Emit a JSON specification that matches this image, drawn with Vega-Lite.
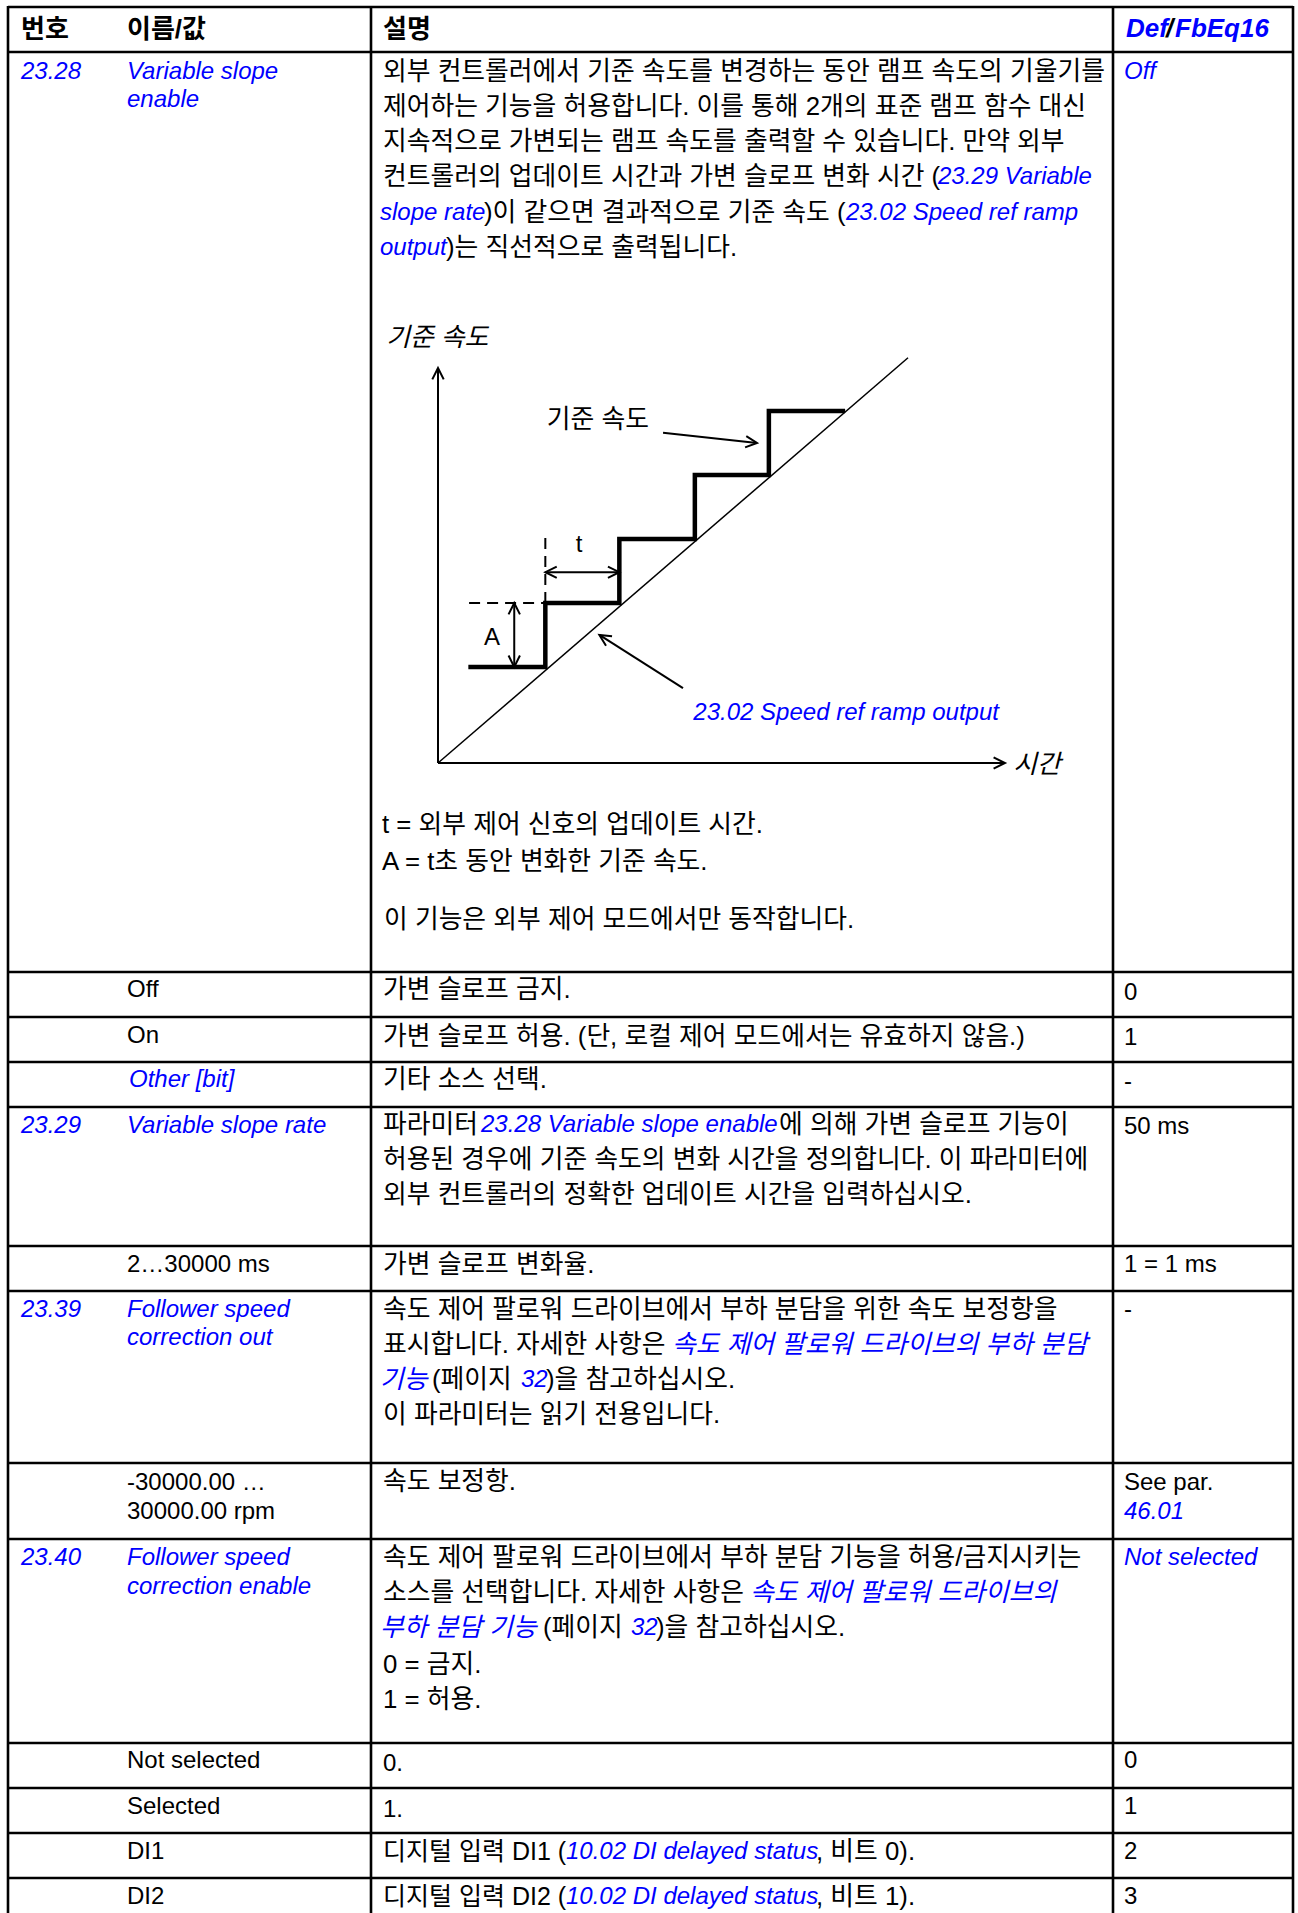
{
  "$schema": "https://vega.github.io/schema/vega-lite/v6.json",
  "width": 1298,
  "height": 1913,
  "padding": 0,
  "autosize": {"type": "none"},
  "background": "white",
  "config": {"view": {"stroke": null}},
  "datasets": {
    "grid": [
      {"x": 8, "y": 7, "x2": 1293, "y2": 7},
      {"x": 8, "y": 52, "x2": 1293, "y2": 52},
      {"x": 8, "y": 972, "x2": 1293, "y2": 972},
      {"x": 8, "y": 1017, "x2": 1293, "y2": 1017},
      {"x": 8, "y": 1062, "x2": 1293, "y2": 1062},
      {"x": 8, "y": 1107, "x2": 1293, "y2": 1107},
      {"x": 8, "y": 1246, "x2": 1293, "y2": 1246},
      {"x": 8, "y": 1291, "x2": 1293, "y2": 1291},
      {"x": 8, "y": 1463, "x2": 1293, "y2": 1463},
      {"x": 8, "y": 1539, "x2": 1293, "y2": 1539},
      {"x": 8, "y": 1743, "x2": 1293, "y2": 1743},
      {"x": 8, "y": 1788, "x2": 1293, "y2": 1788},
      {"x": 8, "y": 1833, "x2": 1293, "y2": 1833},
      {"x": 8, "y": 1878, "x2": 1293, "y2": 1878},
      {"x": 8, "y": 6, "x2": 8, "y2": 1913},
      {"x": 371, "y": 6, "x2": 371, "y2": 1913},
      {"x": 1113, "y": 6, "x2": 1113, "y2": 1913},
      {"x": 1293, "y": 6, "x2": 1293, "y2": 1913}
    ],
    "head": [
      {"x": 21, "y": 30, "t": "번호"},
      {"x": 127, "y": 30, "t": "이름/값"},
      {"x": 383, "y": 30, "t": "설명"}
    ],
    "headlink": [
      {"x": 1126, "y": 29, "t": "Def"},
      {"x": 1175, "y": 29, "t": "FbEq16"}
    ],
    "headslash": [
      {"x": 1166, "y": 29, "t": "/"}
    ],
    "plain": [
      {"x": 127, "y": 990, "t": "Off"},
      {"x": 127, "y": 1036, "t": "On"},
      {"x": 127, "y": 1265, "t": "2…30000 ms"},
      {"x": 127, "y": 1483, "t": "-30000.00 …"},
      {"x": 127, "y": 1512, "t": "30000.00 rpm"},
      {"x": 127, "y": 1761, "t": "Not selected"},
      {"x": 127, "y": 1807, "t": "Selected"},
      {"x": 127, "y": 1852, "t": "DI1"},
      {"x": 127, "y": 1897, "t": "DI2"},
      {"x": 383, "y": 1764, "t": "0."},
      {"x": 383, "y": 1810, "t": "1."},
      {"x": 1124, "y": 993, "t": "0"},
      {"x": 1124, "y": 1038, "t": "1"},
      {"x": 1124, "y": 1082, "t": "-"},
      {"x": 1124, "y": 1127, "t": "50 ms"},
      {"x": 1124, "y": 1265, "t": "1 = 1 ms"},
      {"x": 1124, "y": 1310, "t": "-"},
      {"x": 1124, "y": 1483, "t": "See par."},
      {"x": 1124, "y": 1761, "t": "0"},
      {"x": 1124, "y": 1807, "t": "1"},
      {"x": 1124, "y": 1852, "t": "2"},
      {"x": 1124, "y": 1897, "t": "3"}
    ],
    "kor": [
      {"x": 383, "y": 72, "t": "외부 컨트롤러에서 기준 속도를 변경하는 동안 램프 속도의 기울기를"},
      {"x": 383, "y": 107, "t": "제어하는 기능을 허용합니다. 이를 통해 2개의 표준 램프 함수 대신"},
      {"x": 383, "y": 142, "t": "지속적으로 가변되는 램프 속도를 출력할 수 있습니다. 만약 외부"},
      {"x": 383, "y": 177, "t": "컨트롤러의 업데이트 시간과 가변 슬로프 변화 시간 ("},
      {"x": 484, "y": 213, "t": ")이 같으면 결과적으로 기준 속도 ("},
      {"x": 446, "y": 248, "t": ")는 직선적으로 출력됩니다."},
      {"x": 382, "y": 825, "t": "t = 외부 제어 신호의 업데이트 시간."},
      {"x": 382, "y": 862, "t": "A = t초 동안 변화한 기준 속도."},
      {"x": 384, "y": 920, "t": "이 기능은 외부 제어 모드에서만 동작합니다."},
      {"x": 383, "y": 990, "t": "가변 슬로프 금지."},
      {"x": 383, "y": 1037, "t": "가변 슬로프 허용. (단, 로컬 제어 모드에서는 유효하지 않음.)"},
      {"x": 383, "y": 1080, "t": "기타 소스 선택."},
      {"x": 383, "y": 1125, "t": "파라미터 "},
      {"x": 779, "y": 1125, "t": "에 의해 가변 슬로프 기능이"},
      {"x": 383, "y": 1160, "t": "허용된 경우에 기준 속도의 변화 시간을 정의합니다. 이 파라미터에"},
      {"x": 383, "y": 1195, "t": "외부 컨트롤러의 정확한 업데이트 시간을 입력하십시오."},
      {"x": 383, "y": 1265, "t": "가변 슬로프 변화율."},
      {"x": 383, "y": 1310, "t": "속도 제어 팔로워 드라이브에서 부하 분담을 위한 속도 보정항을"},
      {"x": 383, "y": 1345, "t": "표시합니다. 자세한 사항은 "},
      {"x": 432, "y": 1380, "t": "(페이지 "},
      {"x": 546, "y": 1380, "t": ")을 참고하십시오."},
      {"x": 383, "y": 1415, "t": "이 파라미터는 읽기 전용입니다."},
      {"x": 383, "y": 1482, "t": "속도 보정항."},
      {"x": 383, "y": 1558, "t": "속도 제어 팔로워 드라이브에서 부하 분담 기능을 허용/금지시키는"},
      {"x": 383, "y": 1593, "t": "소스를 선택합니다. 자세한 사항은 "},
      {"x": 543, "y": 1628, "t": "(페이지 "},
      {"x": 656, "y": 1628, "t": ")을 참고하십시오."},
      {"x": 383, "y": 1665, "t": "0 = 금지."},
      {"x": 383, "y": 1700, "t": "1 = 허용."},
      {"x": 816, "y": 1852, "t": ", 비트 0)."},
      {"x": 816, "y": 1897, "t": ", 비트 1)."}
    ],
    "kormix": [
      {"x": 383, "y": 1852, "t": "디지털 입력 DI1 ("},
      {"x": 383, "y": 1897, "t": "디지털 입력 DI2 ("}
    ],
    "link": [
      {"x": 21, "y": 72, "t": "23.28"},
      {"x": 127, "y": 72, "t": "Variable slope"},
      {"x": 127, "y": 100, "t": "enable"},
      {"x": 1124, "y": 72, "t": "Off"},
      {"x": 938, "y": 177, "t": "23.29 Variable"},
      {"x": 380, "y": 213, "t": "slope rate"},
      {"x": 846, "y": 213, "t": "23.02 Speed ref ramp"},
      {"x": 380, "y": 248, "t": "output"},
      {"x": 129, "y": 1080, "t": "Other [bit]"},
      {"x": 21, "y": 1126, "t": "23.29"},
      {"x": 127, "y": 1126, "t": "Variable slope rate"},
      {"x": 481, "y": 1125, "t": "23.28 Variable slope enable"},
      {"x": 21, "y": 1310, "t": "23.39"},
      {"x": 127, "y": 1310, "t": "Follower speed"},
      {"x": 127, "y": 1338, "t": "correction out"},
      {"x": 521, "y": 1380, "t": "32"},
      {"x": 1124, "y": 1512, "t": "46.01"},
      {"x": 21, "y": 1558, "t": "23.40"},
      {"x": 127, "y": 1558, "t": "Follower speed"},
      {"x": 127, "y": 1587, "t": "correction enable"},
      {"x": 1124, "y": 1558, "t": "Not selected"},
      {"x": 631, "y": 1628, "t": "32"},
      {"x": 566, "y": 1852, "t": "10.02 DI delayed status"},
      {"x": 566, "y": 1897, "t": "10.02 DI delayed status"}
    ],
    "korlink": [
      {"x": 672, "y": 1345, "t": "속도 제어 팔로워 드라이브의 부하 분담"},
      {"x": 380, "y": 1380, "t": "기능"},
      {"x": 750, "y": 1593, "t": "속도 제어 팔로워 드라이브의"},
      {"x": 380, "y": 1628, "t": "부하 분담 기능"}
    ],
    "axes": [
      {"tx": 0, "sy": 0, "tx2": 0, "sy2": 6.17},
      {"tx": 0, "sy": 0, "tx2": 7.66, "sy2": 0}
    ],
    "ramp": [
      {"tx": 0, "sy": 0, "tx2": 6.35, "sy2": 6.33}
    ],
    "stairs": [
      {"k": 0, "tx": 0.41, "sy": 1.5},
      {"k": 1, "tx": 1.45, "sy": 1.5},
      {"k": 2, "tx": 1.45, "sy": 2.5},
      {"k": 3, "tx": 2.45, "sy": 2.5},
      {"k": 4, "tx": 2.45, "sy": 3.5},
      {"k": 5, "tx": 3.47, "sy": 3.5},
      {"k": 6, "tx": 3.47, "sy": 4.5},
      {"k": 7, "tx": 4.47, "sy": 4.5},
      {"k": 8, "tx": 4.47, "sy": 5.5},
      {"k": 9, "tx": 5.5, "sy": 5.5}
    ],
    "dashes": [
      {"tx": 0.42, "sy": 2.5, "tx2": 1.45, "sy2": 2.5},
      {"tx": 1.45, "sy": 2.5, "tx2": 1.45, "sy2": 3.52}
    ],
    "dims": [
      {"tx": 1.45, "sy": 2.98, "tx2": 2.45, "sy2": 2.98},
      {"tx": 1.03, "sy": 1.5, "tx2": 1.03, "sy2": 2.5},
      {"tx": 3.04, "sy": 5.16, "tx2": 4.31, "sy2": 5.0},
      {"tx": 3.31, "sy": 1.17, "tx2": 2.18, "sy2": 2.0}
    ],
    "heads": [
      {"tx": 0, "sy": 6.17, "heading": 0},
      {"tx": 7.66, "sy": 0, "heading": 90},
      {"tx": 1.45, "sy": 2.98, "heading": 270},
      {"tx": 2.45, "sy": 2.98, "heading": 90},
      {"tx": 1.03, "sy": 2.5, "heading": 0},
      {"tx": 1.03, "sy": 1.5, "heading": 180},
      {"tx": 4.31, "sy": 5.0, "heading": 96},
      {"tx": 2.18, "sy": 2.0, "heading": 302}
    ],
    "dlabital": [
      {"tx": -0.70, "sy": 6.64, "t": "기준 속도"},
      {"tx": 7.77, "sy": -0.03, "t": "시간"}
    ],
    "dlabkor": [
      {"tx": 1.47, "sy": 5.36, "t": "기준 속도"}
    ],
    "dlab": [
      {"tx": 1.86, "sy": 3.41, "t": "t"},
      {"tx": 0.62, "sy": 1.95, "t": "A"}
    ],
    "dlablink": [
      {"tx": 3.45, "sy": 0.78, "t": "23.02 Speed ref ramp output"}
    ]
  },
  "layer": [
    {
      "layer": [
        {
          "data": {"name": "grid"},
          "mark": {"type": "rule", "stroke": "black", "strokeWidth": 2.6},
          "encoding": {
            "x": {"field": "x", "type": "quantitative", "scale": {"domain": [0, 1298], "range": [0, 1298], "nice": false, "zero": false}, "axis": null},
            "x2": {"field": "x2"},
            "y": {"field": "y", "type": "quantitative", "scale": {"domain": [0, 1913], "range": [0, 1913], "nice": false, "zero": false}, "axis": null},
            "y2": {"field": "y2"}
          }
        },
        {
          "data": {"name": "head"},
          "mark": {"type": "text", "align": "left", "baseline": "middle", "font": "Liberation Sans, Noto Sans CJK KR, sans-serif", "fontSize": 26, "fontWeight": "bold", "color": "black"},
          "encoding": {
            "x": {"field": "x", "type": "quantitative", "axis": null},
            "y": {"field": "y", "type": "quantitative", "axis": null},
            "text": {"field": "t"}
          }
        },
        {
          "data": {"name": "headlink"},
          "mark": {"type": "text", "align": "left", "baseline": "middle", "font": "Liberation Sans, Noto Sans CJK KR, sans-serif", "fontSize": 26, "fontWeight": "bold", "fontStyle": "italic", "color": "#0000FF"},
          "encoding": {
            "x": {"field": "x", "type": "quantitative", "axis": null},
            "y": {"field": "y", "type": "quantitative", "axis": null},
            "text": {"field": "t"}
          }
        },
        {
          "data": {"name": "headslash"},
          "mark": {"type": "text", "align": "left", "baseline": "middle", "font": "Liberation Sans, Noto Sans CJK KR, sans-serif", "fontSize": 26, "fontWeight": "bold", "fontStyle": "italic", "color": "black"},
          "encoding": {
            "x": {"field": "x", "type": "quantitative", "axis": null},
            "y": {"field": "y", "type": "quantitative", "axis": null},
            "text": {"field": "t"}
          }
        },
        {
          "data": {"name": "plain"},
          "mark": {"type": "text", "align": "left", "baseline": "middle", "font": "Liberation Sans, Noto Sans CJK KR, sans-serif", "fontSize": 24, "color": "black"},
          "encoding": {
            "x": {"field": "x", "type": "quantitative", "axis": null},
            "y": {"field": "y", "type": "quantitative", "axis": null},
            "text": {"field": "t"}
          }
        },
        {
          "data": {"name": "kor"},
          "mark": {"type": "text", "align": "left", "baseline": "middle", "font": "Liberation Sans, Noto Sans CJK KR, sans-serif", "fontSize": 25.8, "color": "black"},
          "encoding": {
            "x": {"field": "x", "type": "quantitative", "axis": null},
            "y": {"field": "y", "type": "quantitative", "axis": null},
            "text": {"field": "t"}
          }
        },
        {
          "data": {"name": "kormix"},
          "mark": {"type": "text", "align": "left", "baseline": "middle", "font": "Liberation Sans, Noto Sans CJK KR, sans-serif", "fontSize": 25, "color": "black"},
          "encoding": {
            "x": {"field": "x", "type": "quantitative", "axis": null},
            "y": {"field": "y", "type": "quantitative", "axis": null},
            "text": {"field": "t"}
          }
        },
        {
          "data": {"name": "link"},
          "mark": {"type": "text", "align": "left", "baseline": "middle", "font": "Liberation Sans, Noto Sans CJK KR, sans-serif", "fontSize": 24, "fontStyle": "italic", "color": "#0000FF"},
          "encoding": {
            "x": {"field": "x", "type": "quantitative", "axis": null},
            "y": {"field": "y", "type": "quantitative", "axis": null},
            "text": {"field": "t"}
          }
        },
        {
          "data": {"name": "korlink"},
          "mark": {"type": "text", "align": "left", "baseline": "middle", "font": "Liberation Sans, Noto Sans CJK KR, sans-serif", "fontSize": 25.8, "fontStyle": "italic", "color": "#0000FF"},
          "encoding": {
            "x": {"field": "x", "type": "quantitative", "axis": null},
            "y": {"field": "y", "type": "quantitative", "axis": null},
            "text": {"field": "t"}
          }
        }
      ]
    },
    {
      "layer": [
        {
          "data": {"name": "axes"},
          "mark": {"type": "rule", "stroke": "black", "strokeWidth": 2},
          "encoding": {
            "x": {"field": "tx", "type": "quantitative", "scale": {"domain": [0, 7.66], "range": [438, 1005], "nice": false, "zero": false}, "axis": null},
            "x2": {"field": "tx2"},
            "y": {"field": "sy", "type": "quantitative", "scale": {"domain": [0, 6.17], "range": [763, 368], "nice": false, "zero": false}, "axis": null},
            "y2": {"field": "sy2"}
          }
        },
        {
          "data": {"name": "ramp"},
          "mark": {"type": "rule", "stroke": "black", "strokeWidth": 1.5},
          "encoding": {
            "x": {"field": "tx", "type": "quantitative", "axis": null},
            "x2": {"field": "tx2"},
            "y": {"field": "sy", "type": "quantitative", "axis": null},
            "y2": {"field": "sy2"}
          }
        },
        {
          "data": {"name": "stairs"},
          "mark": {"type": "line", "stroke": "black", "strokeWidth": 4.5, "strokeJoin": "miter"},
          "encoding": {
            "x": {"field": "tx", "type": "quantitative", "axis": null},
            "y": {"field": "sy", "type": "quantitative", "axis": null},
            "order": {"field": "k", "type": "quantitative"}
          }
        },
        {
          "data": {"name": "dashes"},
          "mark": {"type": "rule", "stroke": "black", "strokeWidth": 2, "strokeDash": [11, 7]},
          "encoding": {
            "x": {"field": "tx", "type": "quantitative", "axis": null},
            "x2": {"field": "tx2"},
            "y": {"field": "sy", "type": "quantitative", "axis": null},
            "y2": {"field": "sy2"}
          }
        },
        {
          "data": {"name": "dims"},
          "mark": {"type": "rule", "stroke": "black", "strokeWidth": 2},
          "encoding": {
            "x": {"field": "tx", "type": "quantitative", "axis": null},
            "x2": {"field": "tx2"},
            "y": {"field": "sy", "type": "quantitative", "axis": null},
            "y2": {"field": "sy2"}
          }
        },
        {
          "data": {"name": "heads"},
          "mark": {"type": "point", "shape": "M-0.5,1L0,0L0.5,1", "filled": false, "stroke": "black", "strokeWidth": 2, "size": 520, "opacity": 1},
          "encoding": {
            "x": {"field": "tx", "type": "quantitative", "axis": null},
            "y": {"field": "sy", "type": "quantitative", "axis": null},
            "angle": {"field": "heading", "type": "quantitative", "scale": null}
          }
        },
        {
          "data": {"name": "dlabital"},
          "mark": {"type": "text", "align": "left", "baseline": "middle", "font": "Liberation Sans, Noto Sans CJK KR, sans-serif", "fontSize": 25.8, "fontStyle": "italic", "color": "black"},
          "encoding": {
            "x": {"field": "tx", "type": "quantitative", "axis": null},
            "y": {"field": "sy", "type": "quantitative", "axis": null},
            "text": {"field": "t"}
          }
        },
        {
          "data": {"name": "dlabkor"},
          "mark": {"type": "text", "align": "left", "baseline": "middle", "font": "Liberation Sans, Noto Sans CJK KR, sans-serif", "fontSize": 25.8, "color": "black"},
          "encoding": {
            "x": {"field": "tx", "type": "quantitative", "axis": null},
            "y": {"field": "sy", "type": "quantitative", "axis": null},
            "text": {"field": "t"}
          }
        },
        {
          "data": {"name": "dlab"},
          "mark": {"type": "text", "align": "left", "baseline": "middle", "font": "Liberation Sans, Noto Sans CJK KR, sans-serif", "fontSize": 24, "color": "black"},
          "encoding": {
            "x": {"field": "tx", "type": "quantitative", "axis": null},
            "y": {"field": "sy", "type": "quantitative", "axis": null},
            "text": {"field": "t"}
          }
        },
        {
          "data": {"name": "dlablink"},
          "mark": {"type": "text", "align": "left", "baseline": "middle", "font": "Liberation Sans, Noto Sans CJK KR, sans-serif", "fontSize": 24, "fontStyle": "italic", "color": "#0000FF"},
          "encoding": {
            "x": {"field": "tx", "type": "quantitative", "axis": null},
            "y": {"field": "sy", "type": "quantitative", "axis": null},
            "text": {"field": "t"}
          }
        }
      ]
    }
  ],
  "resolve": {"scale": {"x": "independent", "y": "independent"}}
}
